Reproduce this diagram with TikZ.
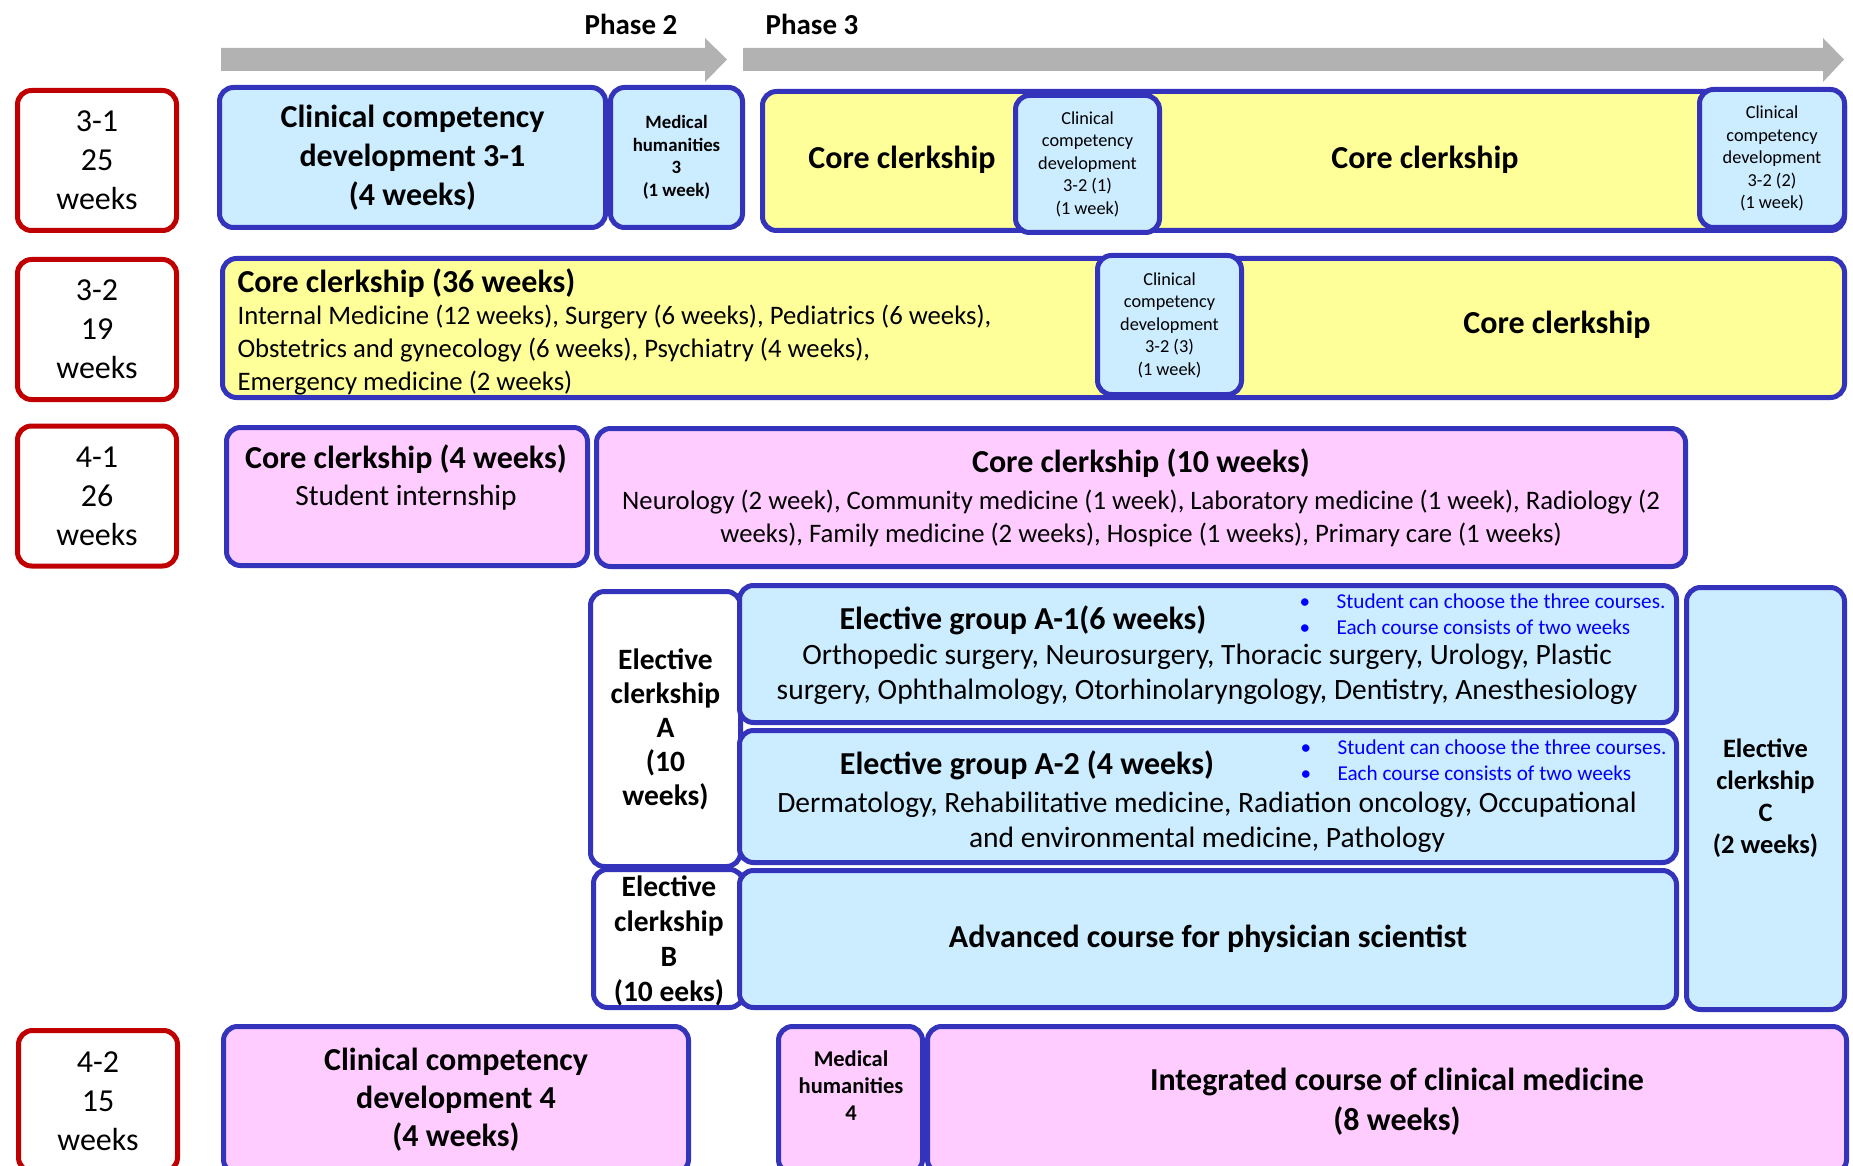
\documentclass[tikz,border=0pt]{standalone}
\usepackage{fontspec}
\setmainfont{Carlito}
\definecolor{bordblue}{RGB}{51,51,187}
\definecolor{cellblue}{RGB}{204,236,255}
\definecolor{cellyellow}{RGB}{255,255,153}
\definecolor{cellpink}{RGB}{255,204,255}
\definecolor{termred}{RGB}{192,0,0}
\definecolor{phasegray}{RGB}{178,178,178}
\definecolor{notefg}{RGB}{0,0,255}
\tikzset{
  wh/.style 2 args={minimum width=#1pt, minimum height=#2pt},
  cell/.style={draw=bordblue, line width=5pt, rounded corners=14pt, inner sep=0pt, align=center},
  blu/.style={cell, fill=cellblue},
  ylw/.style={cell, fill=cellyellow},
  pnk/.style={cell, fill=cellpink},
  wht/.style={cell, fill=white},
  term/.style={draw=termred, line width=5pt, rounded corners=14pt, fill=white, inner sep=0pt,
    align=center, font=\fontsize{32}{39}\selectfont},
  big/.style={align=center, font=\fontsize{32}{39}\selectfont\bfseries},
  body/.style={align=center, font=\fontsize{26.7}{33}\selectfont},
  tiny/.style={align=center, font=\fontsize{18.3}{22.5}\selectfont},
  note/.style={align=left, text=notefg, font=\fontsize{21.2}{26}\selectfont, anchor=west},
  phase/.style={font=\fontsize{29}{30}\selectfont\bfseries}
}
\newcommand{\bul}{\makebox[37pt][l]{\textbullet}}
\begin{document}
\begin{tikzpicture}[x=1pt,y=-1pt]
  \clip (0,0) rectangle (1853,1166);
  \fill[phasegray] (221,48) -- (705,48) -- (705,38) -- (727,59.5) -- (705,82) -- (705,71) -- (221,71) -- cycle;
  \fill[phasegray] (743,48) -- (1823,48) -- (1823,38) -- (1844,59.5) -- (1823,82) -- (1823,71) -- (743,71) -- cycle;
  \node[phase] (ph2) at (631,24) {Phase 2};
  \node[phase] (ph3) at (812,24) {Phase 3};

  \node[term, wh={159}{140}] (t31) at (97,160.5) {3-1\\25\\weeks};
  \node[term, wh={159}{140}] (t32) at (97,329.5) {3-2\\19\\weeks};
  \node[term, wh={159}{140}] (t41) at (97,496) {4-1\\26\\weeks};
  \node[term, wh={159}{141}] (t42) at (98,1101) {4-2\\15\\weeks};

  \node[blu, wh={386}{140}, font=\fontsize{32}{39}\selectfont\bfseries] (ccd31) at (412.5,157.5)
    {Clinical competency\\development 3-1\\(4 weeks)};
  \node[blu, wh={132}{140}, font=\fontsize{18.8}{22.5}\selectfont\bfseries] (mh3) at (676.5,157.5)
    {Medical\\humanities\\3\\(1 week)};
  \node[ylw, wh={1082}{139}] (core1) at (1303.5,161) {};
  \node[big] (core1a) at (902,160) {Core clerkship};
  \node[big] (core1b) at (1425,160) {Core clerkship};
  \node[blu, wh={144}{137}, tiny] (ccd321) at (1087.5,164)
    {Clinical\\competency\\development\\3-2 (1)\\(1 week)};
  \node[blu, wh={145}{138}, tiny] (ccd322) at (1772,158.5)
    {Clinical\\competency\\development\\3-2 (2)\\(1 week)};

  \node[ylw, wh={1622}{139}] (core2) at (1033.5,328) {};
  \node[big, anchor=west] (core2h) at (234,283) {Core clerkship (36 weeks)};
  \node[body, align=left, anchor=west] (core2b) at (234,350)
    {Internal Medicine (12 weeks), Surgery (6 weeks), Pediatrics (6 weeks),\\
     Obstetrics and gynecology (6 weeks), Psychiatry (4 weeks),\\
     Emergency medicine (2 weeks)};
  \node[blu, wh={144}{139}, tiny] (ccd323) at (1169.5,325)
    {Clinical\\competency\\development\\3-2 (3)\\(1 week)};
  \node[big] (core2c) at (1557,325) {Core clerkship};

  \node[pnk, wh={361}{138}] (core4) at (407,496.5) {};
  \node[align=center, font=\fontsize{29.4}{37}\selectfont] (core4t) at (406,477)
    {{\fontsize{32}{37}\selectfont\bfseries Core clerkship (4 weeks)}\\Student internship};
  \node[pnk, wh={1089}{138}, body] (core10) at (1141,497.5)
    {{\fontsize{32}{36}\selectfont\bfseries Core clerkship (10 weeks)}\\[4pt]
     Neurology (2 week), Community medicine (1 week), Laboratory medicine (1 week), Radiology (2\\
     weeks), Family medicine (2 weeks), Hospice (1 weeks), Primary care (1 weeks)};

  \node[wht, wh={150}{275}, font=\fontsize{29.5}{34}\selectfont\bfseries] (elA) at (665.5,729)
    {Elective\\clerkship\\A\\(10\\weeks)};
  \node[wht, wh={150}{138}] (elB) at (668.5,938.5) {};
  \node[align=center, font=\fontsize{29.5}{35}\selectfont\bfseries] (elBt) at (669,941)
    {Elective\\clerkship\\B\\(10 eeks)};
  \node[blu, wh={937}{137}] (a1) at (1208,654) {};
  \node[big] (a1t) at (1023,620) {Elective group A-1(6 weeks)};
  \node[body, font=\fontsize{29.5}{35}\selectfont] (a1b) at (1207,674.5)
    {Orthopedic surgery, Neurosurgery, Thoracic surgery, Urology, Plastic\\
     surgery, Ophthalmology, Otorhinolaryngology, Dentistry, Anesthesiology};
  \node[note] (a1n) at (1296,614)
    {\bul Student can choose the three courses.\\\bul Each course consists of two weeks};
  \node[blu, wh={937}{132}] (a2) at (1208,796.5) {};
  \node[big] (a2t) at (1027,765) {Elective group A-2 (4 weeks)};
  \node[body, font=\fontsize{29.5}{35}\selectfont] (a2b) at (1207,822.5)
    {Dermatology, Rehabilitative medicine, Radiation oncology, Occupational\\
     and environmental medicine, Pathology};
  \node[note] (a2n) at (1297,760)
    {\bul Student can choose the three courses.\\\bul Each course consists of two weeks};
  \node[blu, wh={937}{137}, big] (adv) at (1208,939)
    {Advanced course for physician scientist};
  \node[blu, wh={158}{422}, font=\fontsize{26.5}{32}\selectfont\bfseries] (elC) at (1765.5,798.5)
    {Elective\\clerkship\\C\\(2 weeks)};

  \node[pnk, wh={465}{147}, font=\fontsize{32}{38}\selectfont\bfseries] (ccd4) at (456,1100)
    {Clinical competency\\development 4\\(4 weeks)};
  \node[pnk, wh={144}{147}] (mh4) at (850.5,1100) {};
  \node[align=center, font=\fontsize{22.5}{27}\selectfont\bfseries] (mh4t) at (851,1086)
    {Medical\\humanities\\4};
  \node[pnk, wh={919}{147}] (integ) at (1387,1100) {};
  \node[align=center, font=\fontsize{32}{40}\selectfont\bfseries] (integt) at (1397,1102)
    {Integrated course of clinical medicine\\(8 weeks)};
\end{tikzpicture}
\end{document}
